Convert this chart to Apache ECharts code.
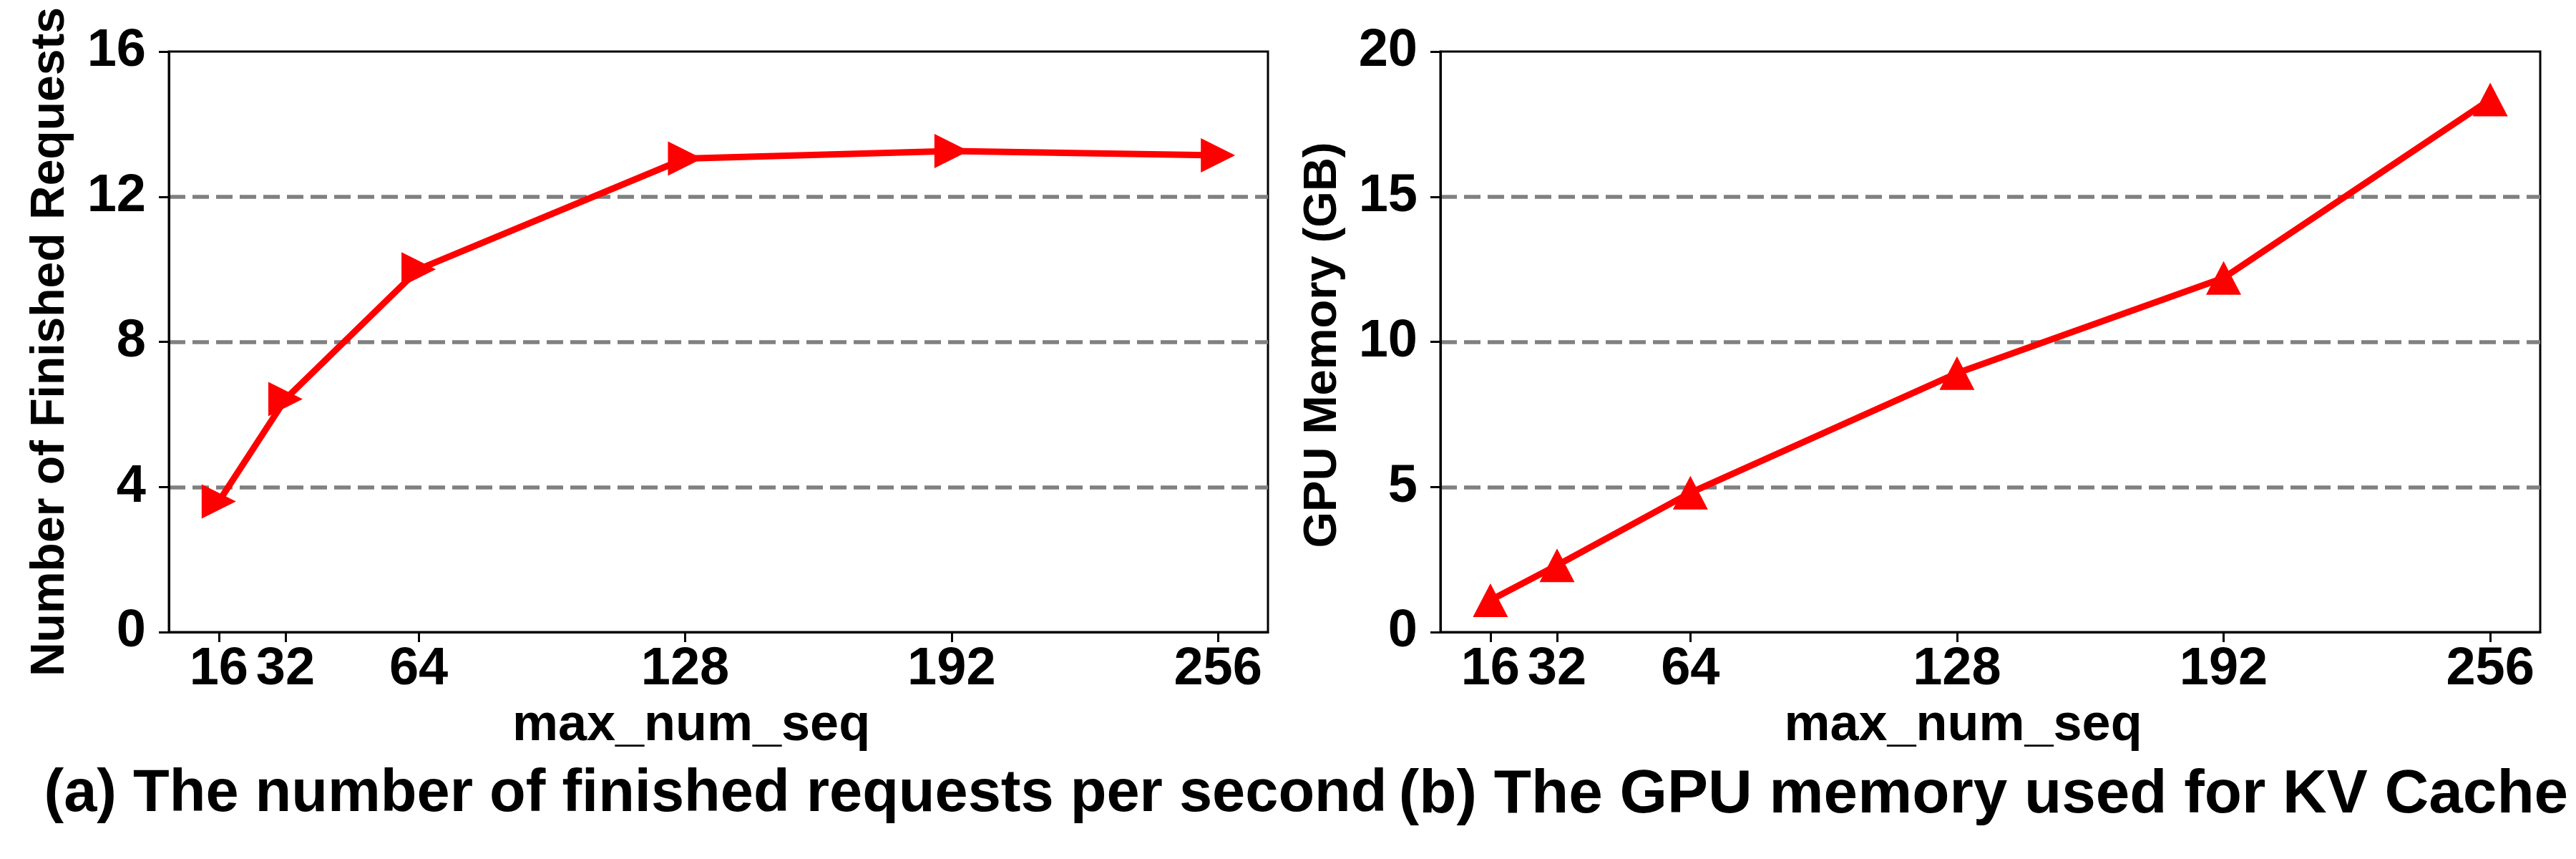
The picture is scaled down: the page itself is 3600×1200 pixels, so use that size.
<!DOCTYPE html>
<html>
<head>
<meta charset="utf-8">
<script src="https://cdn.jsdelivr.net/npm/echarts@6/dist/echarts.min.js"></script>
<style>
html,body{margin:0;padding:0;background:#fff;}
#chart{width:3600px;height:1200px;}
</style>
</head>
<body>
<div id="chart"></div>
<script>
// ---- data ----
const maxNumSeq = [16, 32, 64, 128, 192, 256];
const finishedRequests = [3.6, 6.42, 10.0, 13.05, 13.26, 13.14];
const gpuMemoryGB = [1.1, 2.3, 4.8, 8.92, 12.2, 18.35];
const xTickValues = [16, 32, 64, 128, 192, 256];
const xAxisTitle = 'max_num_seq';
const yTitleA = 'Number of Finished Requests';
const yTitleB = 'GPU Memory (GB)';
const captionA = '(a) The number of finished requests per second';
const captionB = '(b) The GPU memory used for KV Cache';

const FONT = '"Liberation Sans", Arial, sans-serif';
const pairs = (xs, ys) => xs.map((x, i) => [x, ys[i]]);

function xAxisCfg(gridIndex) {
  return {
    type: 'value', gridIndex, min: 4, max: 268,
    name: xAxisTitle, nameLocation: 'middle', nameGap: 74,
    nameTextStyle: {fontFamily: FONT, fontWeight: 'bold', fontSize: 72, color: '#000', padding: [0, 76, 0, 0]},
    axisLine: {show: true, lineStyle: {color: '#000', width: 3}},
    axisTick: {show: true, inside: false, length: 14, lineStyle: {color: '#000', width: 3}, customValues: xTickValues},
    axisLabel: {show: true, margin: 16, fontFamily: FONT, fontWeight: 'bold', fontSize: 74, color: '#000', customValues: xTickValues},
    splitLine: {show: false}
  };
}
function yAxisCfg(gridIndex, max, interval, name, nameSize, nameGap) {
  return {
    type: 'value', gridIndex, min: 0, max, interval,
    name, nameLocation: 'middle', nameRotate: 90, nameGap,
    nameTextStyle: {fontFamily: FONT, fontWeight: 'bold', fontSize: nameSize, color: '#000'},
    axisLine: {show: true, lineStyle: {color: '#000', width: 3}},
    axisTick: {show: true, inside: false, length: 14, lineStyle: {color: '#000', width: 3}},
    axisLabel: {show: true, margin: 32, fontFamily: FONT, fontWeight: 'bold', fontSize: 74, color: '#000'},
    splitLine: {show: true, showMinLine: false, showMaxLine: false,
      lineStyle: {color: '#808080', width: 5.5, type: [23, 10]}}
  };
}

const chart = echarts.init(document.getElementById('chart'), null, {renderer: 'canvas'});
chart.setOption({
  backgroundColor: '#ffffff',
  animation: false,
  title: [
    {text: captionA, left: 995, top: 1064, textAlign: 'center',
     textStyle: {fontFamily: FONT, fontWeight: 'bold', fontSize: 83, color: '#000'}},
    {text: captionB, left: 2767, top: 1063, textAlign: 'center',
     textStyle: {fontFamily: FONT, fontWeight: 'bold', fontSize: 85.5, color: '#000'}}
  ],
  graphic: [
    {type: 'text', x: 1849, y: 482, rotation: Math.PI / 2, silent: true,
     style: {text: yTitleB, fill: '#000', fontFamily: FONT, fontWeight: 'bold', fontSize: 65,
             align: 'center', verticalAlign: 'middle', textAlign: 'center', textVerticalAlign: 'middle'}}
  ],
  grid: [
    {left: 236, right: 1828, top: 72, bottom: 317, show: true, borderColor: '#000', borderWidth: 3, containLabel: false},
    {left: 2013, right: 50, top: 72, bottom: 317, show: true, borderColor: '#000', borderWidth: 3, containLabel: false}
  ],
  xAxis: [xAxisCfg(0), xAxisCfg(1)],
  yAxis: [
    yAxisCfg(0, 16, 4, yTitleA, 66, 132),
    yAxisCfg(1, 20, 5, '', 60, 126)
  ],
  series: [
    {type: 'line', xAxisIndex: 0, yAxisIndex: 0, data: pairs(maxNumSeq, finishedRequests),
     symbol: 'triangle', symbolSize: [48, 48], symbolRotate: -90, showSymbol: true,
     lineStyle: {color: '#ff0000', width: 9}, itemStyle: {color: '#ff0000'}, z: 5},
    {type: 'line', xAxisIndex: 1, yAxisIndex: 1, data: pairs(maxNumSeq, gpuMemoryGB),
     symbol: 'triangle', symbolSize: [49, 47], showSymbol: true,
     lineStyle: {color: '#ff0000', width: 9}, itemStyle: {color: '#ff0000'}, z: 5}
  ]
});
</script>
</body>
</html>
